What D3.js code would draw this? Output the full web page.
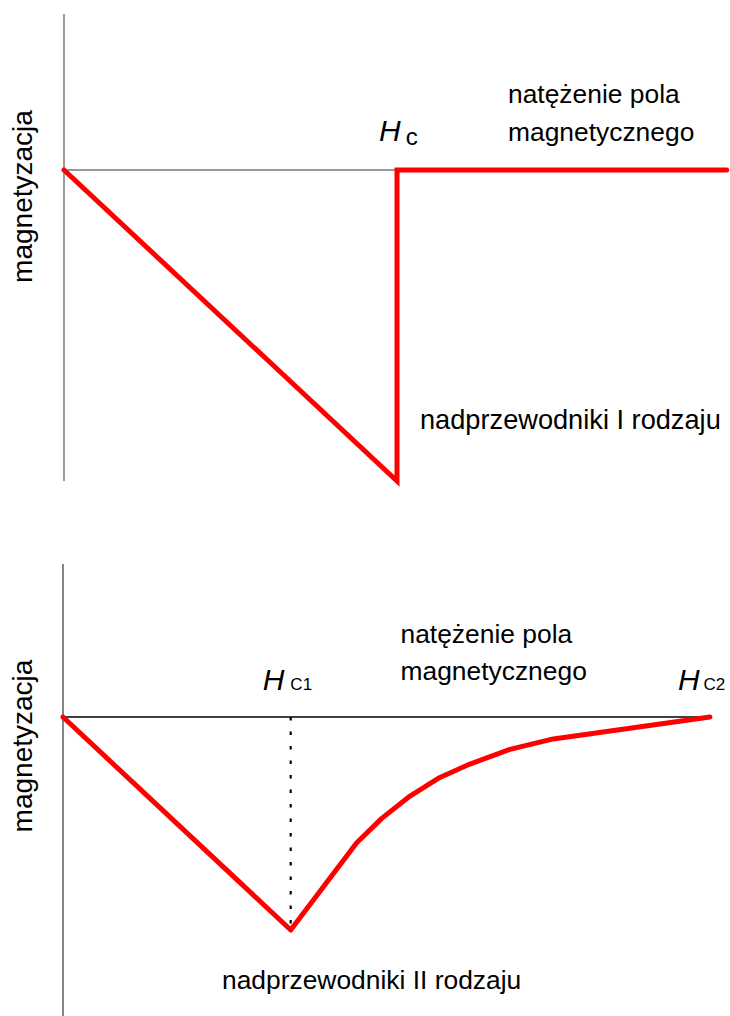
<!DOCTYPE html>
<html>
<head>
<meta charset="utf-8">
<script src="https://cdn.jsdelivr.net/npm/d3@7"></script>
<style>
  html, body { margin: 0; padding: 0; background: #fff; }
  svg text { font-family: "Liberation Sans", Arial, sans-serif; fill: #000; }
</style>
</head>
<body>
<svg id="chart" width="730" height="1016"></svg>
<script>
// ---- Data ----
// Type I superconductor: magnetization vs field (H in units of Hc)
const typeI_H = [0, 1, 1, 1.99];
const typeI_M = [0, -1, 0, 0];
// Type II superconductor: magnetization vs field (H in units of Hc1)
const typeII_H = [0, 1.0, 1.29, 1.40, 1.524, 1.648, 1.787, 1.963, 2.153, 2.841];
const typeII_M = [0, -1.0, -0.59, -0.476, -0.371, -0.288, -0.221, -0.152, -0.103, 0];
const Hc1 = 1.0, Hc2 = 2.841, Hc = 1;

const yLabel = "magnetyzacja";
const xLabelLines = ["natężenie pola", "magnetycznego"];
const title1 = "nadprzewodniki I rodzaju";
const title2 = "nadprzewodniki II rodzaju";

const svg = d3.select("#chart");
const FONT = 27.2;
const FONT2 = 26.4;
const XFONT = 26.4;
const YFONT = 28;

// ---------- Chart 1 ----------
{
  const x = d3.scaleLinear().domain([0, 2]).range([64, 730]);
  const y = d3.scaleLinear().domain([-1, 0]).range([481, 170]);
  const g = svg.append("g");
  g.append("line").attr("x1", x(0)).attr("x2", x(0)).attr("y1", 14).attr("y2", y(-1))
    .attr("stroke", "#666").attr("stroke-width", 1.3);
  g.append("line").attr("x1", x(0)).attr("x2", x(Hc)).attr("y1", y(0)).attr("y2", y(0))
    .attr("stroke", "#777").attr("stroke-width", 1.3);
  const pts = typeI_H.map((h, i) => [x(h), y(typeI_M[i])]);
  g.append("path").attr("d", d3.line()(pts)).attr("fill", "none")
    .attr("stroke", "#ff0000").attr("stroke-width", 5)
    .attr("stroke-linejoin", "miter").attr("stroke-linecap", "round");
  g.append("text").attr("transform", `translate(32,196.5) rotate(-90)`)
    .attr("text-anchor", "middle").attr("font-size", YFONT).text(yLabel);
  xLabelLines.forEach((t, i) => g.append("text").attr("x", 508).attr("y", 103 + i * 37.5)
    .attr("font-size", XFONT).text(t));
  const hl = g.append("text").attr("x", x(Hc) - 18).attr("y", 141);
  hl.append("tspan").attr("font-style", "italic").attr("font-size", 30).text("H");
  hl.append("tspan").attr("dx", 5).attr("dy", 4).attr("font-size", 24).text("c");
  g.append("text").attr("x", 420).attr("y", 429).attr("font-size", FONT).text(title1);
}

// ---------- Chart 2 ----------
{
  const x = d3.scaleLinear().domain([0, 1]).range([63, 290.7]);
  const y = d3.scaleLinear().domain([-1, 0]).range([930, 717]);
  const g = svg.append("g");
  g.append("line").attr("x1", x(0)).attr("x2", x(0)).attr("y1", 564).attr("y2", 1016)
    .attr("stroke", "#444").attr("stroke-width", 1.3);
  g.append("line").attr("x1", x(0)).attr("x2", x(Hc2)).attr("y1", y(0)).attr("y2", y(0))
    .attr("stroke", "#000").attr("stroke-width", 1.3);
  g.append("line").attr("x1", x(Hc1)).attr("x2", x(Hc1)).attr("y1", y(0)).attr("y2", y(-1))
    .attr("stroke", "#000").attr("stroke-width", 2.2).attr("stroke-dasharray", "3.5,11");
  const pts = typeII_H.map((h, i) => [x(h), y(typeII_M[i])]);
  g.append("path").attr("d", d3.line()(pts)).attr("fill", "none")
    .attr("stroke", "#ff0000").attr("stroke-width", 5)
    .attr("stroke-linejoin", "round").attr("stroke-linecap", "round");
  g.append("text").attr("transform", `translate(32,746) rotate(-90)`)
    .attr("text-anchor", "middle").attr("font-size", YFONT).text(yLabel);
  xLabelLines.forEach((t, i) => g.append("text").attr("x", 400.5).attr("y", 643 + i * 37)
    .attr("font-size", XFONT).text(t));
  const h1 = g.append("text").attr("x", x(Hc1) - 28).attr("y", 690);
  h1.append("tspan").attr("font-style", "italic").attr("font-size", 30).text("H");
  h1.append("tspan").attr("dx", 6).attr("font-size", 17).text("C1");
  const h2 = g.append("text").attr("x", x(Hc2) - 32).attr("y", 690);
  h2.append("tspan").attr("font-style", "italic").attr("font-size", 30).text("H");
  h2.append("tspan").attr("dx", 4).attr("font-size", 17).text("C2");
  g.append("text").attr("x", 222).attr("y", 989).attr("font-size", FONT2).text(title2);
}
</script>
</body>
</html>
